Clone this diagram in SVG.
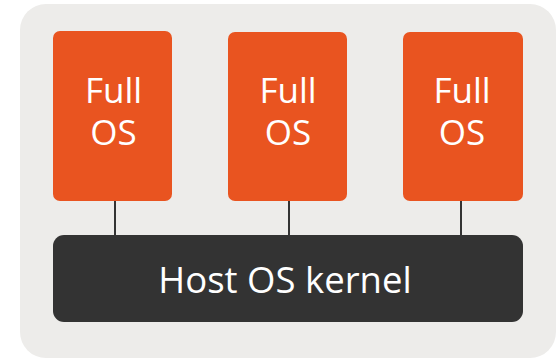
<svg xmlns="http://www.w3.org/2000/svg" width="560" height="360" viewBox="0 0 560 360">
<style>
.os{fill:#E95420}
.t{font-family:"Open Sans","Liberation Sans",sans-serif;fill:#fff;text-anchor:middle}
.c{stroke:#333;stroke-width:2;fill:none}
</style>
<rect x="0" y="0" width="560" height="360" fill="#fff"/>
<rect x="20" y="4" width="536" height="354" rx="26" fill="#EDECEA"/>
<g id="connectors">
<line class="c" x1="115" y1="200" x2="115" y2="236"/>
<line class="c" x1="289" y1="200" x2="289" y2="236"/>
<line class="c" x1="461" y1="200" x2="461" y2="236"/>
</g>
<g id="os1"><rect class="os" x="53" y="31" width="119" height="170" rx="7"/><text class="t" font-size="35"><tspan x="113.5" y="103">Full</tspan><tspan x="113.5" y="145">OS</tspan></text></g>
<g id="os2"><rect class="os" x="228" y="32" width="119" height="169" rx="7"/><text class="t" font-size="35"><tspan x="288" y="103">Full</tspan><tspan x="288" y="145">OS</tspan></text></g>
<g id="os3"><rect class="os" x="403" y="32" width="120" height="169" rx="7"/><text class="t" font-size="35"><tspan x="462" y="103">Full</tspan><tspan x="462" y="145">OS</tspan></text></g>
<g id="kernel"><rect x="53" y="235" width="470" height="87" rx="11" fill="#333"/><text class="t" font-size="36.5" x="285" y="293">Host OS kernel</text></g>
</svg>
